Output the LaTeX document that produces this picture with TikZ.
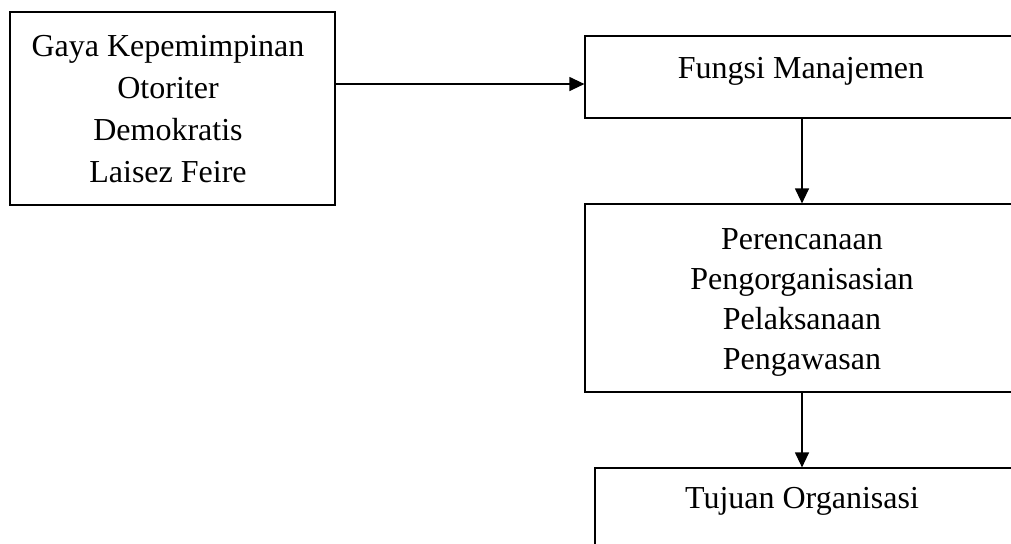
\documentclass[tikz,border=0pt]{standalone}
\usepackage{fontspec}
\setmainfont{Liberation Serif}
\usepackage{tikz}
\usetikzlibrary{arrows.meta,fit}

\begin{document}
\begin{tikzpicture}[x=0.5pt,y=-0.5pt,
  frame/.style={draw,line width=0.6pt,inner sep=0pt},
  txt/.style={align=center,anchor=base,inner sep=0pt,font=\fontsize{16}{21}\selectfont},
  arr/.style={line width=0.6pt,-{Triangle[length=7.5pt,width=7pt]}}]

\useasboundingbox (0,0) rectangle (1011,543);
\clip (0,0) rectangle (1011,543);

% kotak
\node[frame,fit={(10,12) (335,205)}] (gaya) {};
\node[frame,fit={(585,36) (1040,118)}] (fungsi) {};
\node[frame,fit={(585,204) (1040,392)}] (proses) {};
\node[frame,fit={(595,468) (1040,580)}] (tujuan) {};

% teks (base = baris terakhir)
\node[txt] (gayatxt) at (168,182) {Gaya Kepemimpinan\\Otoriter\\Demokratis\\Laisez Feire};
\node[txt] (fungsitxt) at (801,78) {Fungsi Manajemen};
\node[txt,font=\fontsize{16}{20}\selectfont] (prosestxt) at (802,369) {Perencanaan\\Pengorganisasian\\Pelaksanaan\\Pengawasan};
\node[txt] (tujuantxt) at (802,508) {Tujuan Organisasi};

% panah
\coordinate (lvl) at (0,84);
\coordinate (col) at (802,0);
\draw[arr] (gaya.east |- lvl) -- (fungsi.west |- lvl);
\draw[arr] (fungsi.south -| col) -- (proses.north -| col);
\draw[arr] (proses.south -| col) -- (tujuan.north -| col);
\end{tikzpicture}
\end{document}
